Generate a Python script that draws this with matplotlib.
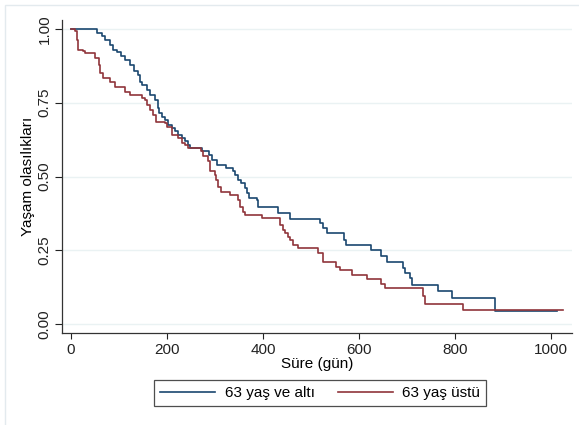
import numpy as np
import matplotlib.pyplot as plt
from matplotlib.patches import Rectangle

plt.rcParams['font.family'] = ['Liberation Sans', 'DejaVu Sans']

# Kaplan-Meier steps (time in days, survival after the step)
t_young = [0, 55, 64, 71, 81, 88, 95, 104, 112, 123, 131, 139, 144, 147, 159, 165,
           175, 181, 184, 190, 196, 203, 210, 217, 224, 231, 237, 244, 248, 272, 288,
           293, 305, 324, 338, 342, 349, 354, 362, 366, 371, 387, 390, 432, 456, 519,
           526, 533, 569, 574, 626, 647, 658, 691, 696, 706, 710, 765, 793, 883, 1012]
s_young = [1.0, .986, .975, .964, .947, .930, .922, .907, .896, .879, .856, .845, .822,
           .811, .794, .777, .760, .732, .715, .703, .692, .675, .664, .653, .641, .630,
           .619, .607, .596, .585, .573, .556, .539, .528, .517, .506, .489, .477, .461,
           .443, .426, .421, .398, .375, .355, .342, .325, .308, .285, .268, .251, .231,
           .211, .189, .172, .155, .132, .113, .087, .044, .044]

t_old = [0, 8, 12, 14, 26, 29, 50, 59, 61, 67, 81, 92, 112, 123, 147, 155, 158, 165,
         171, 178, 196, 201, 210, 224, 231, 237, 244, 270, 275, 286, 290, 300, 303, 307,
         312, 331, 348, 352, 359, 362, 397, 435, 442, 446, 453, 456, 463, 474, 515, 525,
         553, 560, 585, 616, 647, 654, 733, 738, 816, 1026]
s_old = [1.0, .992, .964, .930, .924, .918, .901, .879, .851, .834, .822, .805, .788,
         .777, .766, .760, .743, .726, .709, .686, .681, .669, .641, .630, .613, .607,
         .596, .585, .568, .551, .517, .506, .489, .466, .449, .438, .421, .398, .381,
         .370, .358, .336, .319, .308, .296, .285, .268, .257, .240, .211, .192, .183,
         .166, .151, .136, .121, .094, .067, .048, .048]

labels = ['63 yaş ve altı', '63 yaş üstü']
x_ticks = [0, 200, 400, 600, 800, 1000]
y_ticks = [0.0, 0.25, 0.5, 0.75, 1.0]

W, H = 579, 425
fig = plt.figure(figsize=(W / 100, H / 100), dpi=100)
ax = fig.add_axes([62 / W, 1 - 333 / H, (572 - 62) / W, (333 - 20) / H])

# light outer frame of the graph region
fig.patches.append(Rectangle((5 / W, -0.05), 1.0, 1 - 5 / H + 0.05,
                             transform=fig.transFigure, fill=False,
                             edgecolor='#e3eaee', lw=1.0))

ax.step(t_young, s_young, where='post', color='#1a476f', lw=1.2, label=labels[0])
ax.step(t_old, s_old, where='post', color='#90353b', lw=1.2, label=labels[1])

ax.set_xlim(-18.75, 1044)
ax.set_ylim(-0.0305, 1.0305)
ax.set_xticks(x_ticks)
ax.set_yticks(y_ticks)
ax.set_yticklabels(['%.2f' % v for v in y_ticks], rotation=90, va='center')
ax.tick_params(axis='both', labelsize=11, colors='#222222', length=4, width=0.8, pad=3)
ax.tick_params(axis='y', length=5, pad=2.5)

for v in y_ticks:
    ax.axhline(v, color='#eaf2f3', lw=1.0, zorder=0)

for side in ['top', 'right']:
    ax.spines[side].set_visible(False)
for side in ['left', 'bottom']:
    ax.spines[side].set_color('#333333')
    ax.spines[side].set_linewidth(0.9)

ax.set_xlabel('Süre (gün)', fontsize=11, labelpad=0)
ax.set_ylabel('Yaşam olasılıkları', fontsize=11, labelpad=2)

leg = fig.legend(loc='center', bbox_to_anchor=(320 / W, 1 - 393 / H), ncol=2,
                 fontsize=11, frameon=True, fancybox=False, handlelength=3.6,
                 handletextpad=0.6, columnspacing=1.5, borderpad=0.4)
leg.get_frame().set_edgecolor('#222222')
leg.get_frame().set_linewidth(0.9)

fig.savefig('out.png', dpi=100)
